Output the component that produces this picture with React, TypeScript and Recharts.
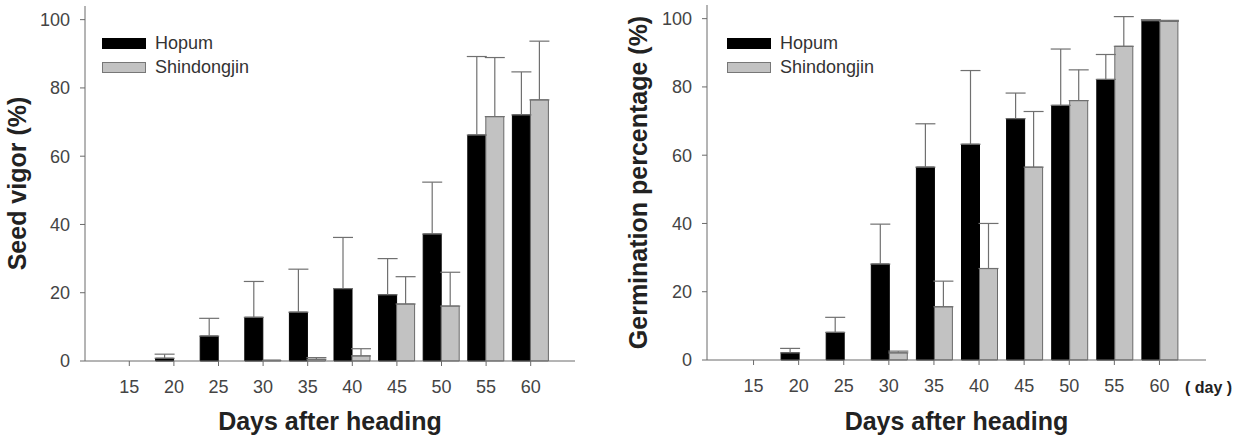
import React from 'react';
import { BarChart, Bar, XAxis, YAxis, ErrorBar, Legend, Label } from 'recharts';

const days = [15, 20, 25, 30, 35, 40, 45, 50, 55, 60];
const yTicks = [0, 20, 40, 60, 80, 100];

const vigorHopum = [0, 0.8, 7.3, 12.8, 14.3, 21.2, 19.4, 37.2, 66.2, 72.1];
const vigorHopumErr = [0, 1.2, 5.2, 10.5, 12.6, 15.0, 10.6, 15.2, 23.0, 12.6];
const vigorShin = [0, 0, 0, 0.3, 0.5, 1.5, 16.7, 16.1, 71.6, 76.5];
const vigorShinErr = [0, 0, 0, 0, 0.5, 2.1, 8.0, 9.9, 17.3, 17.2];

const germHopum = [0, 2.1, 8.1, 28.1, 56.5, 63.2, 70.7, 74.6, 82.2, 99.4];
const germHopumErr = [0, 1.3, 4.4, 11.7, 12.7, 21.6, 7.5, 16.5, 7.3, 0.3];
const germShin = [0, 0, 0, 2.1, 15.6, 26.8, 56.5, 76.0, 91.9, 99.2];
const germShinErr = [0, 0, 0, 0.5, 7.5, 13.2, 16.3, 9.0, 8.7, 0.3];

const FONT = "Arial, 'Liberation Sans', sans-serif";
const AXIS = '#6a6a6a';

function buildData(h: number[], he: number[], s: number[], se: number[]) {
  return days.map((d, i) => ({
    day: d,
    Hopum: h[i],
    Shindongjin: s[i],
    hErr: he[i] > 0 ? [0, he[i]] : null,
    sErr: se[i] > 0 ? [0, se[i]] : null,
  }));
}

const LegendContent = (props: any) => {
  const payload = props.payload || [];
  return (
    <div style={{ fontFamily: FONT, fontSize: 18, color: '#333', lineHeight: '24px' }}>
      {payload.map((p: any) => (
        <div key={p.value} style={{ display: 'flex', alignItems: 'center', height: 24 }}>
          <svg width={44} height={11} style={{ marginRight: 9 }}>
            <rect x={0.5} y={0.5} width={43} height={10} fill={p.color} stroke={p.value === 'Hopum' ? '#000' : '#777'} />
          </svg>
          <span>{p.value}</span>
        </div>
      ))}
    </div>
  );
};

type PanelProps = {
  left: number;
  width: number;
  yAxisWidth: number;
  rightMargin: number;
  topMargin: number;
  xAxisHeight: number;
  xPad: number;
  yLabel: string;
  yLabelOffset: number;
  data: any[];
  legendLeft: number;
  showDay: boolean;
};

function Panel(p: PanelProps) {
  return (
    <div style={{ position: 'absolute', left: p.left, top: 0 }}>
      <BarChart
        width={p.width}
        height={438}
        data={p.data}
        margin={{ top: p.topMargin, right: p.rightMargin, bottom: 0, left: 0 }}
        barSize={18}
        barGap={0}
      >
        <XAxis
          dataKey="day"
          type="category"
          interval={0}
          height={p.xAxisHeight}
          padding={{ left: p.xPad, right: p.xPad }}
          tickSize={5}
          tickMargin={14}
          stroke={AXIS}
          tick={{ fill: '#444', fontSize: 18, fontFamily: FONT }}
        >
          <Label
            value="Days after heading"
            position="insideBottom"
            offset={8}
            style={{ fontSize: 25, fontWeight: 'bold', fill: '#222', fontFamily: FONT }}
          />
          {p.showDay && (
            <Label
              content={(lp: any) => {
                const vb = lp.viewBox || {};
                return (
                  <text
                    x={vb.x + vb.width - 21}
                    y={vb.y + 33}
                    fontSize={16}
                    fontWeight="bold"
                    fill="#222"
                    fontFamily={FONT}
                  >
                    ( day )
                  </text>
                );
              }}
            />
          )}
        </XAxis>
        <YAxis
          type="number"
          domain={[0, 104]}
          ticks={yTicks}
          width={p.yAxisWidth}
          tickSize={5}
          tickMargin={10}
          stroke={AXIS}
          tick={{ fill: '#444', fontSize: 18, fontFamily: FONT }}
        >
          <Label
            value={p.yLabel}
            angle={-90}
            position="insideLeft"
            offset={p.yLabelOffset}
            style={{ textAnchor: 'middle', fontSize: 25, fontWeight: 'bold', fill: '#222', fontFamily: FONT }}
          />
        </YAxis>
        <Legend
          layout="vertical"
          align="center"
          verticalAlign="middle"
          content={LegendContent}
          wrapperStyle={{ left: p.legendLeft, top: 31, width: 'auto', height: 'auto' }}
        />
        <Bar dataKey="Hopum" fill="#000000" stroke="#000000" strokeWidth={1} isAnimationActive={false}>
          <ErrorBar dataKey="hErr" direction="y" width={10} stroke="#707070" strokeWidth={1.2} isAnimationActive={false} />
        </Bar>
        <Bar dataKey="Shindongjin" fill="#c2c2c2" stroke="#6a6a6a" strokeWidth={1} isAnimationActive={false}>
          <ErrorBar dataKey="sErr" direction="y" width={10} stroke="#707070" strokeWidth={1.2} isAnimationActive={false} />
        </Bar>
      </BarChart>
    </div>
  );
}

const vigorData = buildData(vigorHopum, vigorHopumErr, vigorShin, vigorShinErr);
const germData = buildData(germHopum, germHopumErr, germShin, germShinErr);

export default function App() {
  return (
    <div style={{ position: 'absolute', left: 0, top: 0, width: 1250, height: 438, background: '#fff' }}>
      <Panel
        left={0}
        width={620}
        yAxisWidth={85}
        rightMargin={45}
        topMargin={6}
        xAxisHeight={77}
        xPad={22}
        yLabel="Seed vigor (%)"
        yLabelOffset={17}
        data={vigorData}
        legendLeft={102}
        showDay={false}
      />
      <Panel
        left={620}
        width={630}
        yAxisWidth={87}
        rightMargin={44}
        topMargin={5}
        xAxisHeight={78}
        xPad={24}
        yLabel="Germination percentage (%)"
        yLabelOffset={18}
        data={germData}
        legendLeft={107}
        showDay={true}
      />
    </div>
  );
}
